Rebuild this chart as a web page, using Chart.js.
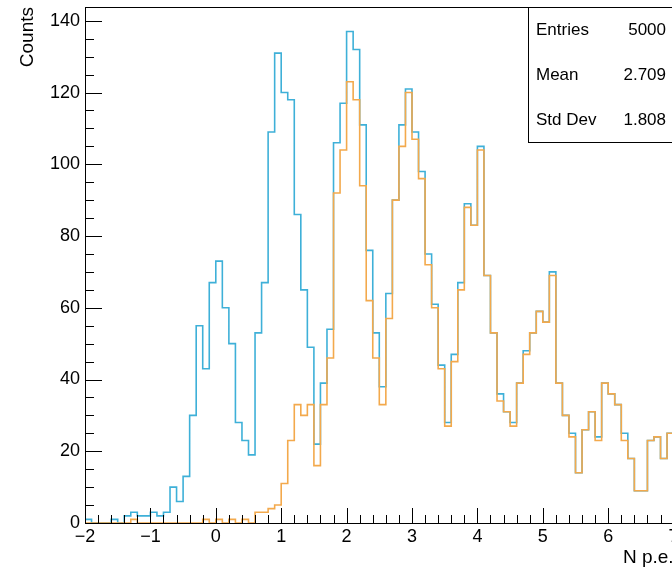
<!DOCTYPE html>
<html>
<head>
<meta charset="utf-8">
<title>N p.e.</title>
<script src="https://cdn.jsdelivr.net/npm/chart.js@4.4.1/dist/chart.umd.min.js"></script>
<style>
  html, body { margin: 0; padding: 0; background: #fff; overflow: hidden; }
  #wrap { width: 672px; height: 570px; overflow: hidden; }
</style>
</head>
<body>
<div id="wrap"><canvas id="npeChart" width="690" height="570"></canvas></div>
<script>
// Binning of the histogram
const binStart = -2.0;
const binWidth = 0.1;

// Counts per bin (all events), first bin starts at -2.0
const countsAll = [
  1, 0, 0, 0, 1, 0, 2, 3, 2, 2,
  3, 2, 3, 10, 6, 13, 30, 55, 43, 67,
  73, 60, 50, 28, 23, 19, 53, 67, 109, 131,
  120, 118, 86, 65, 49, 22, 39, 54, 106, 117,
  137, 132, 111, 76, 53, 38, 64, 90, 111, 121,
  109, 98, 75, 61, 44, 28, 47, 67, 89, 83,
  105, 69, 53, 36, 31, 28, 39, 48, 53, 59,
  56, 70, 39, 30, 25, 14, 26, 31, 24, 39,
  36, 33, 25, 18, 9, 9, 23, 24, 18, 25
];

// Counts per bin (selected events)
const countsSel = [
  0, 0, 0, 0, 0, 0, 0, 1, 0, 0,
  0, 0, 0, 0, 0, 0, 0, 0, 1, 0,
  1, 0, 1, 0, 1, 0, 3, 3, 4, 5,
  11, 23, 33, 30, 33, 16, 33, 46, 92, 104,
  123, 118, 94, 62, 46, 33, 57, 90, 105, 120,
  107, 96, 72, 60, 43, 27, 45, 65, 88, 83,
  104, 69, 53, 34, 31, 27, 39, 47, 53, 59,
  56, 69, 39, 30, 24, 14, 26, 31, 23, 39,
  36, 33, 23, 18, 9, 9, 23, 24, 18, 25
];

// Axis ticks
const xTicks = [-2, -1, 0, 1, 2, 3, 4, 5, 6, 7];
const yTicks = [0, 20, 40, 60, 80, 100, 120, 140];

// Stats box
const statsLabels = ["Entries", "Mean", "Std Dev"];
const statsValues = ["5000", "2.709", "1.808"];

const fontFamily = "'Liberation Sans', Arial, Helvetica, sans-serif";
const textFont = { family: fontFamily, size: 18 };
const titleFont = { family: fontFamily, size: 19 };

// turn bin contents into step points (left edges + closing right edge)
function toSteps(counts) {
  const pts = counts.map((c, i) => ({ x: binStart + i * binWidth, y: c }));
  pts.push({ x: binStart + counts.length * binWidth, y: counts[counts.length - 1] });
  return pts;
}

// ROOT style frame, inward ticks and stats box
const rootFrame = {
  id: "rootFrame",
  afterDraw(chart) {
    const { ctx, chartArea: a, scales } = chart;
    const xs = scales.x;
    const ys = scales.y;
    ctx.save();
    ctx.strokeStyle = "#000";
    ctx.lineWidth = 1;

    // frame
    ctx.strokeRect(a.left + 0.5, a.top + 0.5, a.right - a.left, a.bottom - a.top);

    ctx.beginPath();
    // y ticks: major every 20, minor every 5
    for (let v = 0; v <= ys.max; v += 5) {
      const py = Math.round(ys.getPixelForValue(v)) + 0.5;
      const len = v % 20 === 0 ? 17 : 9;
      ctx.moveTo(a.left, py);
      ctx.lineTo(a.left + len, py);
    }
    // x ticks: major every 1, minor every 0.2
    for (let k = 0; ; k++) {
      const v = xs.min + k * 0.2;
      if (v > xs.max + 1e-9) break;
      const px = Math.round(xs.getPixelForValue(v)) + 0.5;
      const len = k % 5 === 0 ? 15 : 8;
      ctx.moveTo(px, a.bottom);
      ctx.lineTo(px, a.bottom - len);
    }
    ctx.stroke();

    // stats box
    const bx = 528.5, by = a.top + 0.5, bw = 200, bh = 135;
    ctx.fillStyle = "#fff";
    ctx.fillRect(bx, by, bw, bh);
    ctx.strokeRect(bx, by, bw, bh);
    ctx.fillStyle = "#000";
    ctx.font = "17px " + fontFamily;
    ctx.textBaseline = "middle";
    statsLabels.forEach((label, i) => {
      const ty = 30 + i * 45;
      ctx.textAlign = "left";
      ctx.fillText(label, 536, ty);
      ctx.textAlign = "right";
      ctx.fillText(statsValues[i], 666, ty);
    });
    ctx.restore();
  }
};

new Chart(document.getElementById("npeChart"), {
  type: "line",
  data: {
    datasets: [
      {
        label: "selected",
        data: toSteps(countsSel),
        borderColor: "#f3a94c",
        borderWidth: 1.6,
        stepped: true,
        pointRadius: 0,
        fill: false,
        order: 0
      },
      {
        label: "all",
        data: toSteps(countsAll),
        borderColor: "#3eb0d8",
        borderWidth: 1.6,
        stepped: true,
        pointRadius: 0,
        fill: false,
        order: 1
      }
    ]
  },
  options: {
    responsive: false,
    animation: false,
    devicePixelRatio: 1,
    layout: { padding: { top: 7, right: 16.4, bottom: 0, left: 0 } },
    plugins: {
      legend: { display: false },
      tooltip: { enabled: false }
    },
    scales: {
      x: {
        type: "linear",
        min: -2,
        max: 7,
        afterBuildTicks: (s) => { s.ticks = xTicks.map((v) => ({ value: v })); },
        afterFit: (s) => { s.height = 47; s.paddingLeft = 0; s.paddingRight = 0; },
        grid: { display: false, drawTicks: false },
        border: { display: false },
        ticks: {
          padding: 3,
          color: "#000",
          font: textFont,
          maxRotation: 0,
          autoSkip: false,
          callback: (v) => String(v).replace("-", "\u2212")
        },
        title: {
          display: true,
          text: "N p.e.",
          align: "end",
          color: "#000",
          font: titleFont,
          padding: { top: 0, bottom: 1 }
        }
      },
      y: {
        min: 0,
        max: 143.85,
        afterBuildTicks: (s) => { s.ticks = yTicks.map((v) => ({ value: v })); },
        afterFit: (s) => { s.width = 85; s.paddingTop = 0; s.paddingBottom = 0; },
        grid: { display: false, drawTicks: false },
        border: { display: false },
        ticks: { padding: 5, color: "#000", font: textFont },
        title: {
          display: true,
          text: "Counts",
          align: "end",
          color: "#000",
          font: titleFont,
          padding: { top: 16, bottom: 0 }
        }
      }
    }
  },
  plugins: [rootFrame]
});
</script>
</body>
</html>
